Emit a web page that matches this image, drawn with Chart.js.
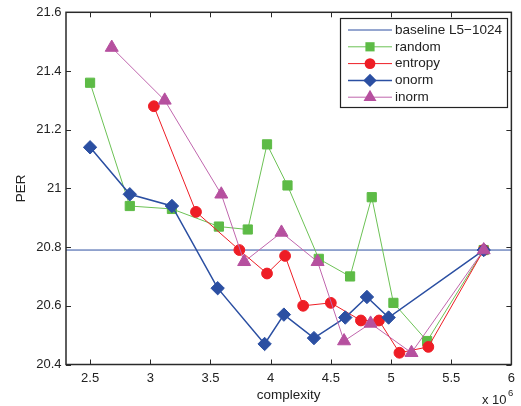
<!DOCTYPE html>
<html>
<head>
<meta charset="utf-8">
<script src="https://cdn.jsdelivr.net/npm/chart.js@4.4.1/dist/chart.umd.min.js"></script>
<style>
  html, body { margin: 0; padding: 0; background: #fff; }
</style>
</head>
<body>
<canvas id="c" width="521" height="406"></canvas>
<script>
// axis range and ticks
const xMin = 2.3, xMax = 6;
const yMin = 20.4, yMax = 21.6;
const xTicks = [2.5, 3, 3.5, 4, 4.5, 5, 5.5, 6];
const yTicks = [20.4, 20.6, 20.8, 21, 21.2, 21.4, 21.6];

// baseline PER
const baselinePER = 20.79;

// series (complexity in units of 1e6, PER)
const randomX = [2.50, 2.83, 3.18, 3.57, 3.81, 3.97, 4.14, 4.40, 4.66, 4.84, 5.02, 5.30, 5.77];
const randomY = [21.36, 20.94, 20.93, 20.87, 20.86, 21.15, 21.01, 20.76, 20.70, 20.97, 20.61, 20.48, 20.79];
const entropyX = [3.03, 3.38, 3.74, 3.97, 4.12, 4.27, 4.50, 4.75, 4.90, 5.07, 5.31, 5.77];
const entropyY = [21.28, 20.92, 20.79, 20.71, 20.77, 20.60, 20.61, 20.55, 20.55, 20.44, 20.46, 20.79];
const onormX = [2.50, 2.83, 3.18, 3.56, 3.95, 4.11, 4.36, 4.62, 4.80, 4.98, 5.77];
const onormY = [21.14, 20.98, 20.94, 20.66, 20.47, 20.57, 20.49, 20.56, 20.63, 20.56, 20.79];
const inormX = [2.68, 3.12, 3.59, 3.78, 4.09, 4.39, 4.61, 4.83, 5.17, 5.77];
const inormY = [21.48, 21.30, 20.98, 20.75, 20.85, 20.75, 20.48, 20.54, 20.44, 20.79];

const FONT = 'Liberation Sans, Arial, Helvetica, sans-serif';
const zip = (xs, ys) => xs.map((x, i) => ({ x: x, y: ys[i] }));

function series(label, xs, ys, color, lineColor, style, radius, width, order) {
  return {
    label: label,
    data: zip(xs, ys),
    showLine: true,
    borderColor: lineColor,
    borderWidth: width,
    backgroundColor: color,
    pointBackgroundColor: color,
    pointBorderColor: color,
    pointBorderWidth: 1,
    pointStyle: style,
    pointRadius: radius,
    order: order
  };
}

const datasets = [
  {
    label: 'baseline L5\u22121024',
    data: [{ x: xMin, y: baselinePER }, { x: xMax, y: baselinePER }],
    showLine: true,
    borderColor: '#2d4fa1',
    borderWidth: 1,
    pointRadius: 0,
    order: 5
  },
  series('random', randomX, randomY, '#5dbb46', '#6cc255', 'rect', 6.5, 1, 4),
  series('entropy', entropyX, entropyY, '#ee1d25', '#ee1d25', 'circle', 5.4, 1, 3),
  series('onorm', onormX, onormY, '#2b4fa2', '#2b4fa2', 'rectRot', 6.7, 1.5, 2),
  series('inorm', inormX, inormY, '#b6509f', '#c066ad', 'triangle', 7.5, 1, 1)
];

// draws one legend marker the same way as the plotted points
function drawMarker(ctx, ds, x, y) {
  const r = ds.pointRadius;
  ctx.fillStyle = ds.pointBackgroundColor;
  ctx.beginPath();
  if (ds.pointStyle === 'rect') {
    const s = r * Math.SQRT1_2;
    ctx.rect(x - s, y - s, 2 * s, 2 * s);
  } else if (ds.pointStyle === 'circle') {
    ctx.arc(x, y, r, 0, Math.PI * 2);
  } else if (ds.pointStyle === 'rectRot') {
    ctx.moveTo(x, y - r); ctx.lineTo(x + r, y); ctx.lineTo(x, y + r); ctx.lineTo(x - r, y);
    ctx.closePath();
  } else if (ds.pointStyle === 'triangle') {
    for (let k = 0; k < 3; k++) {
      const a = k * 2 * Math.PI / 3;
      const px = x + Math.sin(a) * r, py = y - Math.cos(a) * r;
      if (k === 0) ctx.moveTo(px, py); else ctx.lineTo(px, py);
    }
    ctx.closePath();
  }
  ctx.fill();
}

const framePlugin = {
  id: 'frame',
  afterDraw(chart) {
    const ctx = chart.ctx;
    const a = chart.chartArea;
    const xs = chart.scales.x, ys = chart.scales.y;
    ctx.save();
    // box
    ctx.strokeStyle = '#2a2a2a';
    ctx.lineWidth = 1.5;
    ctx.strokeRect(a.left, a.top, a.right - a.left, a.bottom - a.top);
    // inward ticks on all four sides
    const tl = 5;
    ctx.lineWidth = 1;
    ctx.beginPath();
    xTicks.forEach(v => {
      const px = Math.round(xs.getPixelForValue(v)) + 0.5;
      ctx.moveTo(px, a.bottom); ctx.lineTo(px, a.bottom - tl);
      ctx.moveTo(px, a.top); ctx.lineTo(px, a.top + tl);
    });
    yTicks.forEach(v => {
      const py = Math.round(ys.getPixelForValue(v)) + 0.5;
      ctx.moveTo(a.left, py); ctx.lineTo(a.left + tl, py);
      ctx.moveTo(a.right, py); ctx.lineTo(a.right - tl, py);
    });
    ctx.stroke();

    // axis titles
    ctx.fillStyle = '#222';
    ctx.font = '13.5px ' + FONT;
    ctx.textAlign = 'center';
    ctx.textBaseline = 'middle';
    ctx.fillText('complexity', (a.left + a.right) / 2, 395);
    ctx.save();
    ctx.translate(21, (a.top + a.bottom) / 2);
    ctx.rotate(-Math.PI / 2);
    ctx.fillText('PER', 0, 0);
    ctx.restore();

    // exponent
    ctx.textAlign = 'left';
    ctx.font = '13px ' + FONT;
    ctx.fillText('x 10', 482, 400);
    ctx.font = '9.5px ' + FONT;
    ctx.fillText('6', 508, 393);

    // legend
    const lx = 340.5, ly = 18.5, lw = 167, lh = 89;
    ctx.fillStyle = '#fff';
    ctx.fillRect(lx, ly, lw, lh);
    ctx.strokeStyle = '#222';
    ctx.lineWidth = 1.2;
    ctx.strokeRect(lx, ly, lw, lh);
    ctx.font = '13.5px ' + FONT;
    chart.data.datasets.forEach((ds, i) => {
      const y = 30 + i * 16.8;
      ctx.strokeStyle = ds.borderColor;
      ctx.lineWidth = ds.borderWidth;
      ctx.beginPath();
      ctx.moveTo(348, y); ctx.lineTo(392, y);
      ctx.stroke();
      if (ds.pointRadius) drawMarker(ctx, ds, 370, y);
      ctx.fillStyle = '#222';
      ctx.textAlign = 'left';
      ctx.fillText(ds.label, 395, y);
    });
    ctx.restore();
  }
};

new Chart(document.getElementById('c'), {
  type: 'scatter',
  data: { datasets: datasets },
  plugins: [framePlugin],
  options: {
    responsive: false,
    animation: false,
    devicePixelRatio: 1,
    layout: { padding: { left: 0, right: 7, top: 12, bottom: 0 } },
    plugins: {
      legend: { display: false },
      tooltip: { enabled: false }
    },
    scales: {
      x: {
        type: 'linear',
        min: xMin,
        max: xMax,
        afterBuildTicks: s => { s.ticks = xTicks.map(v => ({ value: v })); },
        afterFit: s => { s.height = 41.5; },
        grid: { display: false, drawTicks: false },
        border: { display: false },
        ticks: {
          padding: 6,
          color: '#222',
          font: { family: FONT, size: 13 },
          maxRotation: 0,
          autoSkip: false,
          callback: v => String(v)
        }
      },
      y: {
        type: 'linear',
        min: yMin,
        max: yMax,
        afterBuildTicks: s => { s.ticks = yTicks.map(v => ({ value: v })); },
        afterFit: s => { s.width = 66; },
        grid: { display: false, drawTicks: false },
        border: { display: false },
        ticks: {
          padding: 4.5,
          color: '#222',
          font: { family: FONT, size: 13 },
          autoSkip: false,
          callback: v => String(Math.round(v * 10) / 10)
        }
      }
    }
  }
});
</script>
</body>
</html>
